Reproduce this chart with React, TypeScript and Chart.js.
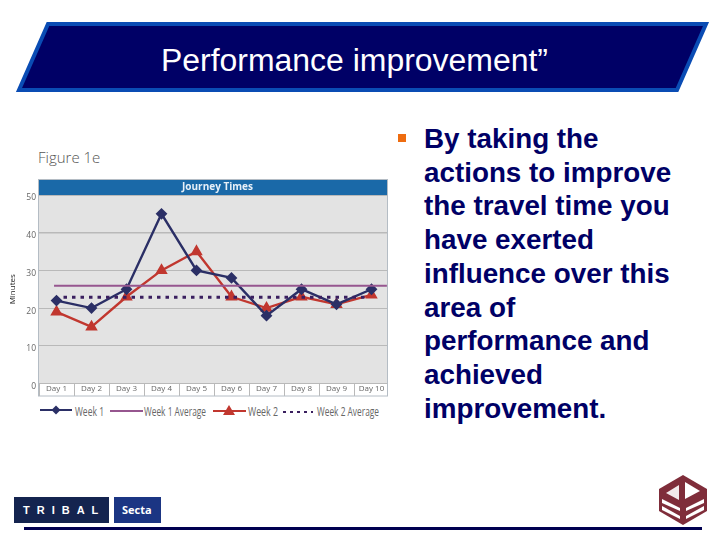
import React, { useEffect, useRef } from "react";
import { Chart, registerables } from "chart.js";

Chart.register(...registerables);

const days = ["Day 1", "Day 2", "Day 3", "Day 4", "Day 5", "Day 6", "Day 7", "Day 8", "Day 9", "Day 10"];
const week1 = [22, 20, 25, 45, 30, 28, 18, 25, 21, 25];
const week2 = [19, 15, 23, 30, 35, 23, 20, 23, 21, 23.5];
const week1Average = [{ x: 0.93, y: 25.9 }, { x: 10.44, y: 25.9 }];
const week2Average = [{ x: 1.2, y: 22.9 }, { x: 9.84, y: 22.9 }];
const bodyLines = [
  "By taking the",
  "actions to improve",
  "the travel time you",
  "have exerted",
  "influence over this",
  "area of",
  "performance and",
  "achieved",
  "improvement.",
];

const NAVY = "#2b2f66";
const RED = "#c1372f";
const PURPLE = "#96568f";
const DOTS = "#3a1f5f";
const GRID = "#b9b9b9";
const TICK_TEXT = "#666666";
const OVERHANG = 2;

const framePlugin = {
  id: "frame",
  afterLayout(chart: any) {
    if (chart.titleBlock) {
      chart.titleBlock.left += 7;
    }
  },
  beforeDraw(chart: any) {
    const { ctx, chartArea: a } = chart;
    const right = a.right - OVERHANG;
    ctx.save();
    ctx.fillStyle = "#e3e3e3";
    ctx.fillRect(a.left, a.top, right - a.left, a.bottom - a.top);
    ctx.fillStyle = "#1a69a8";
    ctx.fillRect(a.left, a.top - 15, right - a.left, 15);
    ctx.restore();
  },
  afterDraw(chart: any) {
    const { ctx, chartArea: a } = chart;
    const right = a.right - OVERHANG;
    ctx.save();
    ctx.clearRect(right, a.top - 16, OVERHANG + 2, a.bottom - a.top + 30);
    ctx.strokeStyle = "#b4bcc4";
    ctx.lineWidth = 1;
    ctx.strokeRect(a.left - 0.5, a.top - 15.5, right - a.left + 1, a.bottom - a.top + 28);
    ctx.restore();
  },
};

function App() {
  const ref = useRef<HTMLCanvasElement>(null);
  useEffect(() => {
    const chart = new Chart(ref.current as HTMLCanvasElement, {
      type: "line",
      plugins: [framePlugin],
      data: {
        labels: days,
        datasets: [
          {
            label: "Week 1 Average",
            data: week1Average as any,
            xAxisID: "xAvg",
            borderColor: PURPLE,
            borderWidth: 2,
            pointRadius: 0,
          },
          {
            label: "Week 2 Average",
            data: week2Average as any,
            xAxisID: "xAvg",
            borderColor: DOTS,
            borderWidth: 3,
            borderDash: [3.5, 5],
            pointRadius: 0,
          },
          {
            label: "Week 1",
            data: week1,
            borderColor: NAVY,
            backgroundColor: NAVY,
            borderWidth: 2.4,
            pointStyle: "rectRot",
            pointRadius: 4.2,
            tension: 0,
          },
          {
            label: "Week 2",
            data: week2,
            borderColor: RED,
            backgroundColor: RED,
            borderWidth: 2.4,
            pointStyle: "triangle",
            pointRadius: 4.8,
            tension: 0,
          },
        ],
      },
      options: {
        animation: false,
        responsive: false,
        layout: { padding: { left: 8, right: 11, top: 10, bottom: 14 } },
        plugins: {
          legend: { display: false },
          tooltip: { enabled: false },
          title: {
            display: true,
            text: "Journey Times",
            color: "#e8f0f8",
            fullSize: false,
            padding: 0,
            font: { family: "'Open Sans'", size: 10, weight: "bold", lineHeight: "15px" },
          },
        },
        scales: {
          x: {
            type: "category",
            offset: true,
            border: { color: GRID },
            grid: {
              offset: true,
              drawOnChartArea: false,
              drawTicks: true,
              tickLength: 12.5,
              tickColor: GRID,
            },
            ticks: {
              color: TICK_TEXT,
              autoSkip: false,
              maxRotation: 0,
              padding: -12,
              font: { family: "'Open Sans'", size: 8 },
            },
            afterFit(scale: any) {
              scale.height = 12.5;
            },
          },
          xAvg: { type: "linear", display: false, min: 0.5, max: 10.5 },
          y: {
            min: 0,
            max: 50,
            border: { display: false },
            title: {
              display: true,
              text: "Minutes",
              color: "#222222",
              padding: 0,
              font: { family: "'Open Sans'", size: 8 },
            },
            grid: {
              drawTicks: false,
              color: GRID,
              lineWidth: (c: any) => (c.tick && c.tick.value === 40 ? 1.6 : 1),
            },
            ticks: {
              stepSize: 10,
              color: TICK_TEXT,
              padding: 3,
              labelOffset: 3,
              font: { family: "'Open Sans'", size: 8.5 },
            },
            afterFit(scale: any) {
              scale.width = 31;
            },
          },
        } as any,
      },
    } as any);
    return () => chart.destroy();
  }, []);

  const legendFont = { fontFamily: "'Open Sans'", fontSize: 12, fill: "#666666" };
  return (
    <div style={{ position: "absolute", left: 0, top: 0, width: 720, height: 540, background: "#ffffff", overflow: "hidden" }}>
      <svg width={720} height={540} style={{ position: "absolute", left: 0, top: 0 }}>
        <polygon points="48,24 706,24 677,90 19,90" fill="#000066" stroke="#0a4cb4" strokeWidth={4} />
        <text x={161} y={71} fontFamily="'Liberation Sans'" fontSize={31} fill="#ffffff" textLength={387} lengthAdjust="spacingAndGlyphs">
          Performance improvement”
        </text>

        <text x={38} y={163} fontFamily="'Open Sans'" fontSize={15} fill="#555555" fontWeight={300}>Figure 1e</text>

        <rect x={398} y={134} width={8} height={8} fill="#ee6c10" />
        {bodyLines.map((line, i) => (
          <text key={line} x={424} y={148 + i * 33.7} fontFamily="'Liberation Sans'" fontWeight="bold" fontSize={27.8} fill="#000066">
            {line}
          </text>
        ))}

        <rect x={14} y={497} width={95} height={26} fill="#14244f" />
        <text x={23} y={514} fontFamily="'Liberation Sans'" fontWeight="bold" fontSize={11} fill="#ffffff" letterSpacing={7}>TRIBAL</text>
        <rect x={114} y={497} width={47} height={26} fill="#1b3583" />
        <text x={122} y={514} fontFamily="'Open Sans'" fontWeight="bold" fontSize={11} fill="#ffffff">Secta</text>
        <rect x={24} y={527} width={678} height={3} fill="#000050" />

        <polygon points="683,475 707,489 707,511 683,525 659,511 659,489" fill="#7f2d3a" />
        <polygon points="685,482 700,491 685,499" fill="#ffffff" />
        <polygon points="666,493 679,485 679,500" fill="#ffffff" opacity={0.9} />
        <polygon points="662,499 680,508 680,511 662,503" fill="#ffffff" />
        <polygon points="662,506 680,516 680,519 662,510" fill="#ffffff" />
        <polygon points="704,499 686,508 686,511 704,503" fill="#ffffff" />
        <polygon points="704,506 686,516 686,519 704,510" fill="#ffffff" />

        <line x1={40} x2={72} y1={410} y2={410} stroke={NAVY} strokeWidth={2} />
        <polygon points="56,405.5 60.5,410 56,414.5 51.5,410" fill={NAVY} />
        <text x={75} y={416} {...legendFont} textLength={29} lengthAdjust="spacingAndGlyphs">Week 1</text>
        <line x1={110} x2={143} y1={411} y2={411} stroke={PURPLE} strokeWidth={2} />
        <text x={144} y={416} {...legendFont} textLength={62} lengthAdjust="spacingAndGlyphs">Week 1 Average</text>
        <line x1={213} x2={246} y1={411} y2={411} stroke={RED} strokeWidth={2} />
        <polygon points="229,405 235,415 223,415" fill={RED} />
        <text x={248} y={416} {...legendFont} textLength={30} lengthAdjust="spacingAndGlyphs">Week 2</text>
        <line x1={283} x2={313} y1={412} y2={412} stroke={DOTS} strokeWidth={2} strokeDasharray="3 4" />
        <text x={317} y={416} {...legendFont} textLength={62} lengthAdjust="spacingAndGlyphs">Week 2 Average</text>
      </svg>
      <canvas ref={ref} width={400} height={240} style={{ position: "absolute", left: 0, top: 170, width: 400, height: 240 }} />
    </div>
  );
}

export default App;
